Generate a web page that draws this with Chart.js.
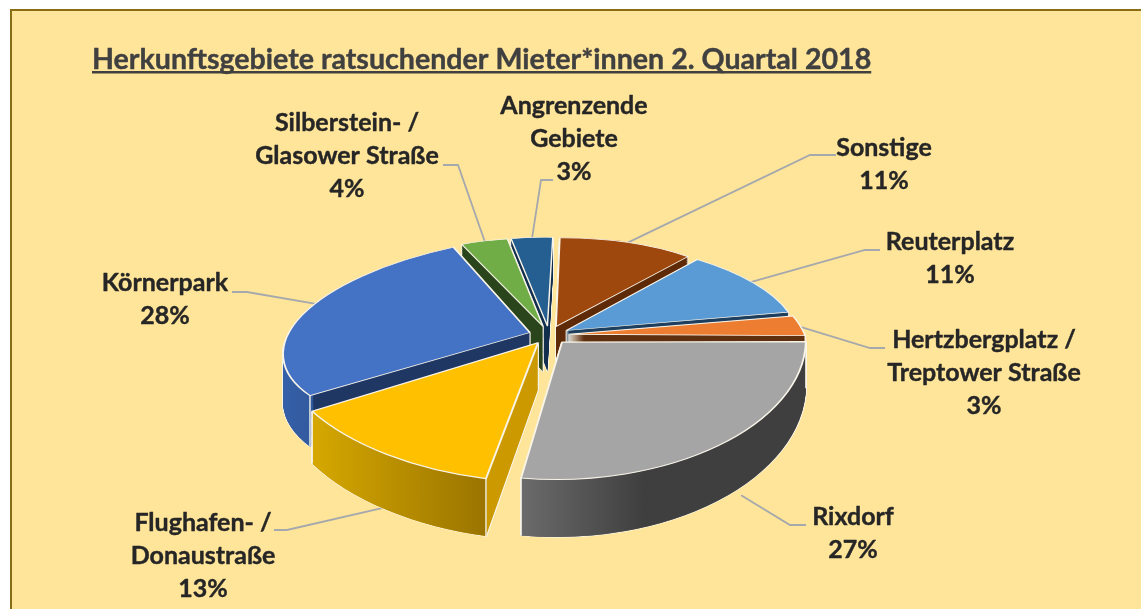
<!DOCTYPE html>
<html>
<head>
<meta charset="utf-8">
<script src="https://cdn.jsdelivr.net/npm/chart.js@4"></script>
<style>
  html, body { margin: 0; padding: 0; background: #fff; overflow: hidden; }
  #wrap { position: absolute; left: 0; top: 0; width: 1141px; height: 609px; }
</style>
</head>
<body>
<div id="wrap"><canvas id="pie" width="1141" height="609"></canvas></div>
<script>
const titleText = "Herkunftsgebiete ratsuchender Mieter*innen 2. Quartal 2018";
const categories = ["Sonstige", "Reuterplatz", "Hertzbergplatz / Treptower Straße", "Rixdorf", "Flughafen- / Donaustraße", "Körnerpark", "Silberstein- / Glasower Straße", "Angrenzende Gebiete"];
const values = [10.9, 10.9, 3, 27.4, 13.1, 27.5, 3.8, 3.4];
const labelLines = [["Sonstige"], ["Reuterplatz"], ["Hertzbergplatz /", "Treptower Straße"], ["Rixdorf"], ["Flughafen- /", "Donaustraße"], ["Körnerpark"], ["Silberstein- /", "Glasower Straße"], ["Angrenzende", "Gebiete"]];
const topColors = ["#9e480e", "#5b9bd5", "#ed7d31", "#a5a5a5", "#ffc000", "#4472c4", "#70ad47", "#255e91"];
const wallColors = ["#5f2b08", "#1f3f5f", "#5f3010", "#636363", "#cc9a00", "#203864", "#2a451c", "#14304f"];
const rimLeft = ["#7f3a0b", "#4a7cab", "#5f3010", "#6b6b6b", "#d6a800", "#3560a8", "#5a8a39", "#1e4b74"];
const rimRight = ["#5f2b08", "#37648f", "#5f3010", "#3f3f3f", "#9a7400", "#2f5597", "#43682b", "#163856"];
const rimStops = [0.55, 0.55, 0.55, 0.43, 1, 0.55, 0.55, 0.55];

// where each label block sits: centre x, first line y, elbow of the leader line
const labelSpots = [
  { x: 884, y: 148, from: [836, 155], elbow: [810, 155], h: 0 },
  { x: 950, y: 242, from: [880, 250], elbow: [865, 250], h: 0 },
  { x: 984, y: 340, from: [885, 348], elbow: [870, 348], h: 0 },
  { x: 853, y: 517, from: [806, 525], elbow: [790, 525], h: 1 },
  { x: 203, y: 523, from: [274, 530], elbow: [287, 530], h: 1 },
  { x: 165, y: 283, from: [232, 292], elbow: [247, 292], h: 0 },
  { x: 347, y: 123, from: [443, 165], elbow: [458, 165], h: 0 },
  { x: 574, y: 106, from: [553, 180], elbow: [541, 180], h: 0 }
];

// camera of the fake 3D pie
const cam = { cx: 549, cy: 335, squash: 0.46, persp: 0.0008, depth: 46 };
const faceFont = "Lato, 'Open Sans', sans-serif";

function project(x, y, h) {
  const w = 1 - cam.persp * y;
  return [cam.cx + x / w, cam.cy + (cam.squash * y + h) / w];
}

// affine that lands the apex and two rim points of a slice on their projected spots
function sliceMatrix(el, off, h) {
  const m = (el.startAngle + el.endAngle) / 2, r = el.outerRadius;
  const span = el.endAngle - el.startAngle;
  const s = el.startAngle + span * 0.05, e = el.endAngle - span * 0.05;
  const ax = off * Math.cos(m), ay = off * Math.sin(m);
  const u1 = [r * Math.cos(s), r * Math.sin(s)], u2 = [r * Math.cos(e), r * Math.sin(e)];
  const p0 = project(ax, ay, h);
  const p1 = project(ax + u1[0], ay + u1[1], h);
  const p2 = project(ax + u2[0], ay + u2[1], h);
  const v1 = [p1[0] - p0[0], p1[1] - p0[1]], v2 = [p2[0] - p0[0], p2[1] - p0[1]];
  const det = u1[0] * u2[1] - u2[0] * u1[1];
  const a = (v1[0] * u2[1] - v2[0] * u1[1]) / det;
  const c = (v2[0] * u1[0] - v1[0] * u2[0]) / det;
  const b = (v1[1] * u2[1] - v2[1] * u1[1]) / det;
  const d = (v2[1] * u1[0] - v1[1] * u2[0]) / det;
  // el.x, el.y is the library's pie centre, it has to end on p0
  const ox = el.x, oy = el.y;
  return [a, b, c, d, p0[0] - a * ox - c * oy, p0[1] - b * ox - d * oy];
}

function arcOptions(fill, stroke, width) {
  return { backgroundColor: fill, borderColor: stroke, borderWidth: width, borderAlign: "center", borderJoinStyle: "round", borderRadius: 0, borderDash: [], borderDashOffset: 0, offset: 0, spacing: 0, circular: true };
}

function drawLayer(ctx, el, off, h, opts, inner) {
  const saved = el.options, savedInner = el.innerRadius;
  el.options = opts;
  el.innerRadius = inner || 0;
  ctx.save();
  ctx.transform(...sliceMatrix(el, off, h));
  el.draw(ctx);
  ctx.restore();
  el.options = saved;
  el.innerRadius = savedInner;
}

function facesFront(s, e) {
  return Math.sin(s) > 0 || Math.sin(e) > 0 || (s < Math.PI / 2 && e > Math.PI / 2);
}

const pie3d = {
  id: "pie3d",
  beforeDraw(chart) {
    const ctx = chart.ctx;
    ctx.save();
    ctx.fillStyle = "#ffe599";
    ctx.fillRect(11, 10, 1141, 609);
    ctx.strokeStyle = "#8a6d14";
    ctx.lineWidth = 2;
    ctx.beginPath();
    ctx.moveTo(11, 609);
    ctx.lineTo(11, 10);
    ctx.lineTo(1141, 10);
    ctx.stroke();
    ctx.restore();
  },
  beforeDatasetsDraw(chart) {
    const ctx = chart.ctx;
    const meta = chart.getDatasetMeta(0);
    const off = chart.data.datasets[0].offset;
    const white = "#f8f4e8";

    // leader lines sit behind the pie
    ctx.save();
    ctx.strokeStyle = "#a5a8ad";
    ctx.lineWidth = 1.8;
    meta.data.forEach((el, i) => {
      const spot = labelSpots[i];
      const m = (el.startAngle + el.endAngle) / 2;
      const end = project((off + el.outerRadius - 3) * Math.cos(m), (off + el.outerRadius - 3) * Math.sin(m), spot.h * cam.depth);
      ctx.beginPath();
      ctx.moveTo(...spot.from);
      ctx.lineTo(...spot.elbow);
      ctx.lineTo(...end);
      ctx.stroke();
    });
    ctx.restore();

    // back slices first, front slices paint over them
    const order = meta.data.map((el, i) => i).sort((a, b) => {
      const ma = (meta.data[a].startAngle + meta.data[a].endAngle) / 2;
      const mb = (meta.data[b].startAngle + meta.data[b].endAngle) / 2;
      return Math.sin(ma) - Math.sin(mb);
    });

    order.forEach(i => {
      const el = meta.data[i];
      const r = el.outerRadius;
      const s = el.startAngle, e = el.endAngle;
      const xa = Math.min(Math.cos(s), Math.cos(e), (s < Math.PI && e > Math.PI) ? -1 : 1);
      const xb = Math.max(Math.cos(s), Math.cos(e), (s < Math.PI * 2 && e > Math.PI * 2) ? 1 : -1);
      const gradient = ctx.createLinearGradient(el.x + r * xa, 0, el.x + r * xb, 0);
      gradient.addColorStop(0, rimLeft[i]);
      gradient.addColorStop(rimStops[i], rimRight[i]);
      gradient.addColorStop(1, rimRight[i]);

      // silhouette in white, then the body on top of it
      for (let h = cam.depth; h > 0; h -= 1) drawLayer(ctx, el, off, h, arcOptions(white, white, 2));
      for (let h = cam.depth; h > 0; h -= 1) drawLayer(ctx, el, off, h, arcOptions(wallColors[i], wallColors[i], 0));
      if (facesFront(s, e)) {
        for (let h = cam.depth; h > 0; h -= 1) drawLayer(ctx, el, off, h, arcOptions(gradient, gradient, 0), r - 4);
      }

      // corner edges between wall and cut faces
      ctx.save();
      ctx.strokeStyle = white;
      ctx.lineWidth = 1.4;
      [s, e].forEach(a => {
        if (Math.sin(a) < 0) return;
        const top = new DOMMatrix(sliceMatrix(el, off, 0)).transformPoint({ x: el.x + r * Math.cos(a), y: el.y + r * Math.sin(a) });
        const low = new DOMMatrix(sliceMatrix(el, off, cam.depth)).transformPoint({ x: el.x + r * Math.cos(a), y: el.y + r * Math.sin(a) });
        ctx.beginPath();
        ctx.moveTo(top.x, top.y);
        ctx.lineTo(low.x, low.y);
        ctx.stroke();
      });
      ctx.restore();

      drawLayer(ctx, el, off, 0, arcOptions(topColors[i], white, 1.8));
    });
    return false;
  },
  afterDraw(chart) {
    const ctx = chart.ctx;
    const total = values.reduce((a, b) => a + b, 0);
    ctx.save();
    ctx.textBaseline = "alphabetic";
    ctx.lineJoin = "round";

    ctx.font = "bold 28.6px " + faceFont;
    ctx.fillStyle = "#404040";
    ctx.strokeStyle = "#404040";
    ctx.lineWidth = 0.4;
    ctx.textAlign = "left";
    ctx.fillText(titleText, 92, 69);
    ctx.strokeText(titleText, 92, 69);
    ctx.fillRect(92, 71, ctx.measureText(titleText).width, 2.5);

    ctx.font = "bold 25px " + faceFont;
    ctx.fillStyle = "#262626";
    ctx.strokeStyle = "#262626";
    ctx.textAlign = "center";
    labelLines.forEach((lines, i) => {
      const spot = labelSpots[i];
      const rows = lines.concat(Math.round(values[i] / total * 100) + "%");
      rows.forEach((row, k) => {
        ctx.fillText(row, spot.x, spot.y + 8 + k * 33);
        ctx.strokeText(row, spot.x, spot.y + 8 + k * 33);
      });
    });
    ctx.restore();
  }
};

new Chart(document.getElementById("pie"), {
  type: "pie",
  plugins: [pie3d],
  data: {
    labels: categories,
    datasets: [{ data: values, backgroundColor: topColors, offset: 20, radius: 236 }]
  },
  options: {
    responsive: false,
    animation: false,
    rotation: 1.5,
    events: [],
    plugins: { legend: { display: false }, tooltip: { enabled: false } }
  }
});
</script>
</body>
</html>
